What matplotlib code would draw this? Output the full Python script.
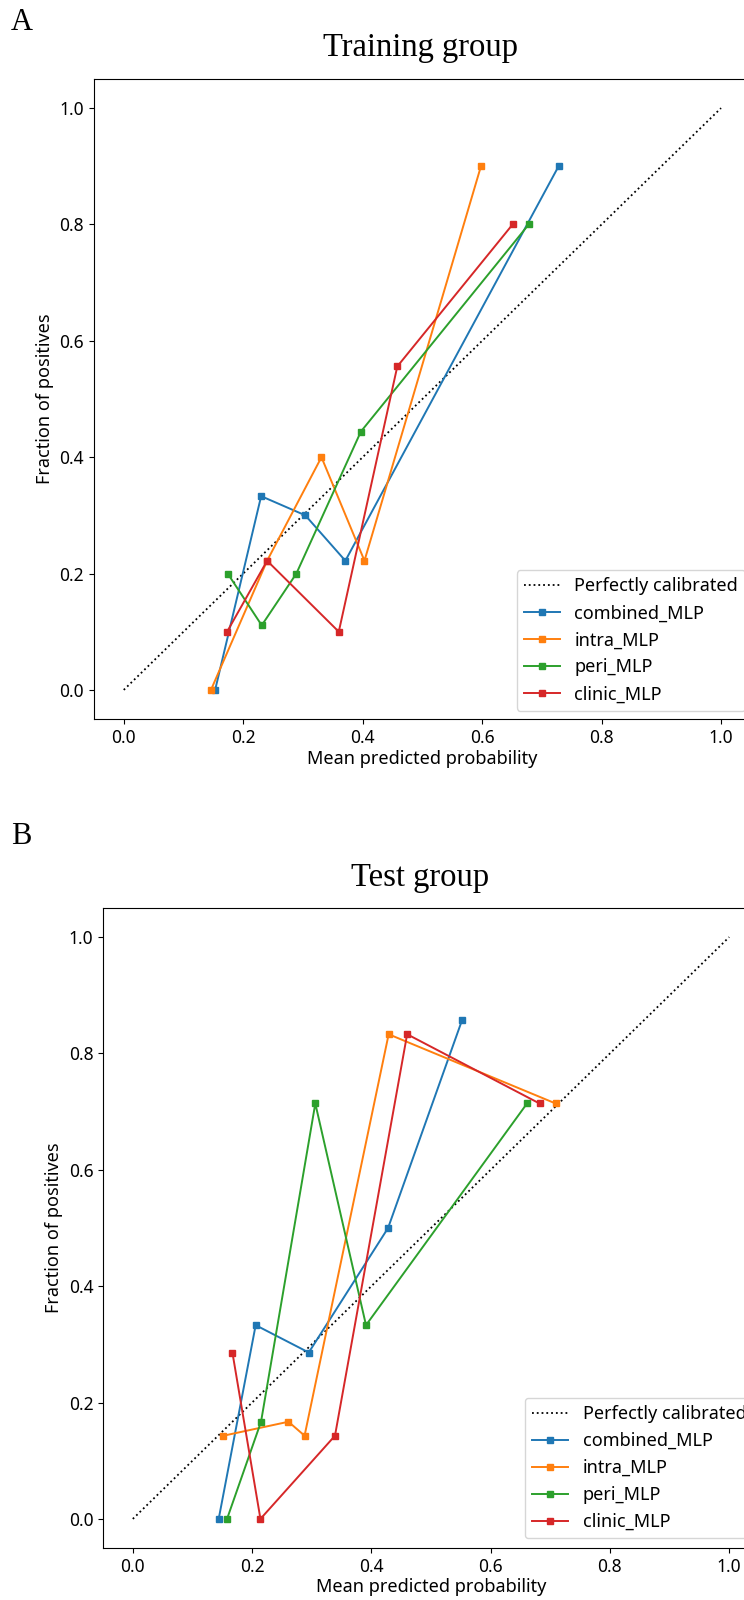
import matplotlib
matplotlib.use("Agg")
import matplotlib.pyplot as plt

# calibration curves: (mean predicted probability, fraction of positives)
models = ["combined_MLP", "intra_MLP", "peri_MLP", "clinic_MLP"]
colors = ["#1f77b4", "#ff7f0e", "#2ca02c", "#d62728"]

train_x = [
    [0.153, 0.230, 0.304, 0.371, 0.728],
    [0.146, 0.240, 0.331, 0.403, 0.598],
    [0.174, 0.231, 0.289, 0.397, 0.678],
    [0.173, 0.240, 0.360, 0.458, 0.651],
]
train_y = [
    [0.0, 0.333, 0.300, 0.222, 0.900],
    [0.0, 0.222, 0.400, 0.222, 0.900],
    [0.200, 0.111, 0.200, 0.444, 0.800],
    [0.100, 0.222, 0.100, 0.556, 0.800],
]

test_x = [
    [0.144, 0.206, 0.295, 0.428, 0.552],
    [0.152, 0.261, 0.288, 0.429, 0.709],
    [0.158, 0.215, 0.306, 0.391, 0.661],
    [0.167, 0.214, 0.339, 0.460, 0.682],
]
test_y = [
    [0.0, 0.333, 0.286, 0.500, 0.857],
    [0.143, 0.167, 0.143, 0.833, 0.714],
    [0.0, 0.167, 0.714, 0.333, 0.714],
    [0.286, 0.0, 0.143, 0.833, 0.714],
]

plt.rcParams["font.family"] = ["Noto Sans", "DejaVu Sans"]
plt.rcParams["font.size"] = 13

W, H = 744, 1600
fig = plt.figure(figsize=(W / 100, H / 100), dpi=100)


def calib_panel(rect, xs, ys, leg_anchor):
    ax = fig.add_axes(rect)
    ax.plot([0, 1], [0, 1], "k:", lw=1.3, label="Perfectly calibrated")
    for name, c, x, y in zip(models, colors, xs, ys):
        ax.plot(x, y, "s-", color=c, lw=1.4, ms=5, label=name)
    ax.set_xlim(-0.05, 1.05)
    ax.set_ylim(-0.05, 1.05)
    ax.tick_params(labelsize=12.5)
    ax.set_xlabel("Mean predicted probability", labelpad=2)
    ax.set_ylabel("Fraction of positives")
    ax.legend(loc="lower left", bbox_to_anchor=leg_anchor, borderaxespad=0)
    return ax


# axes run slightly past the right edge of the canvas
calib_panel([93.9 / W, 1 - 719 / H, 657 / W, 640 / H], train_x, train_y,
            (0.6435, 0.013))
calib_panel([103 / W, 1 - 1548 / H, 656 / W, 640 / H], test_x, test_y,
            (0.643, 0.015))

serif = ["Liberation Serif", "DejaVu Serif"]
fig.text(11 / W, 1 - 22 / H, "A", family=serif, fontsize=22, ha="left", va="center")
fig.text(420 / W, 1 - 48 / H, "Training group", family=serif, fontsize=23.5,
         ha="center", va="center")
fig.text(11 / W, 1 - 836 / H, "B", family=serif, fontsize=22, ha="left", va="center")
fig.text(420 / W, 1 - 878 / H, "Test group", family=serif, fontsize=23.5,
         ha="center", va="center")

fig.savefig("out.png", dpi=100)
